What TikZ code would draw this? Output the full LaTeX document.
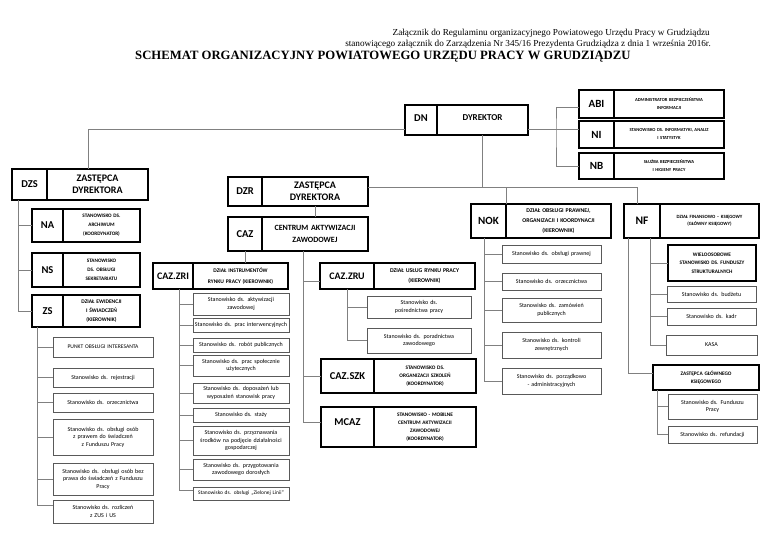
\documentclass[tikz,border=0pt]{standalone}
\usepackage{fontspec}
\setmainfont{Carlito}
\newfontfamily\tnr{Liberation Serif}
\newcommand\fs[2]{\fontsize{#1}{#2}\selectfont}
\tikzset{
 boxbase/.style={anchor=north west, inner xsep=1pt, inner ysep=0pt, outer sep=0pt, align=center},
 ab/.style={draw=black, line width=1.2pt, font=\bfseries\fs{10.5}{12}},
 ds/.style={draw=black, line width=1.2pt, font=\bfseries\fs{5.2}{9}},
 ch/.style={draw=black!65, line width=0.8pt, font=\fs{6}{7.6}},
 conn/.style={draw=black!50, line width=0.7pt},
}
\newcommand\bx[7][]{%
  \pgfmathsetmacro\bxw{#5-#3}%
  \pgfmathsetmacro\bxh{#6-#4}%
  \pgfmathsetmacro\bxt{#5-#3-2}%
  \node[boxbase,#1,minimum width=\bxw pt,minimum height=\bxh pt,text width=\bxt pt] (#2) at (#3,#4) {#7};}
\begin{document}
\begin{tikzpicture}[x=1pt,y=-1pt]
\fill[white] (0,0) rectangle (768,543);
\useasboundingbox (0,0) rectangle (768,543);
% header
\node[anchor=east, inner sep=0, font=\tnr\fs{9.2}{11}] (h1) at (710,33) {Załącznik do Regulaminu organizacyjnego Powiatowego Urzędu Pracy w Grudziądzu};
\node[anchor=east, inner sep=0, font=\tnr\fs{9.2}{11}] (h2) at (711,44) {stanowiącego załącznik do Zarządzenia Nr 345/16 Prezydenta Grudziądza z dnia 1 września 2016r.};
\node[anchor=west, inner sep=0, font=\tnr\bfseries\fs{12.7}{14}] (title) at (135,57) {SCHEMAT ORGANIZACYJNY POWIATOWEGO URZĘDU PRACY W GRUDZIĄDZU};
% top
\bx[ab]{dn}{405}{105}{437}{135}{\raisebox{3pt}{DN}}
\bx[ab,font=\bfseries\fs{9}{11}]{dyr}{437}{105}{528}{135}{\raisebox{4pt}{DYREKTOR}}
\bx[ab,font=\bfseries\fs{11}{12}]{abi}{579}{90}{614}{118}{ABI}
\bx[ds,font=\bfseries\fs{4.6}{8}]{abid}{614}{90}{724}{118}{ADMINISTRATOR BEZPIECZEŃSTWA\\INFORMACJI}
\bx[ab,font=\bfseries\fs{11}{12}]{ni}{579}{121}{614}{148}{NI}
\bx[ds,font=\bfseries\fs{4.6}{8}]{nid}{614}{121}{724}{148}{STANOWISKO DS. INFORMATYKI, ANALIZ\\I STATYSTYK}
\bx[ab,font=\bfseries\fs{11}{12}]{nb}{579}{153}{614}{179}{NB}
\bx[ds,font=\bfseries\fs{4.6}{8}]{nbd}{614}{153}{724}{179}{SŁUŻBA BEZPIECZEŃSTWA\\I HIGIENY PRACY}
% left
\bx[ab]{dzs}{12}{169}{47}{200}{DZS}
\bx[ds,font=\bfseries\fs{10}{11.7}]{dzsd}{47}{169}{148}{200}{ZASTĘPCA\\DYREKTORA}
\bx[ab]{na}{32}{209}{63}{242}{NA}
\bx[ds]{nad}{63}{209}{140}{242}{STANOWISKO DS.\\ARCHIWUM\\(KOORDYNATOR)}
\bx[ab]{ns}{32}{253}{63}{287}{NS}
\bx[ds]{nsd}{63}{253}{140}{287}{STANOWISKO\\DS. OBSŁUGI\\SEKRETARIATU}
\bx[ab]{zs}{32}{295}{63}{327}{ZS}
\bx[ds,font=\bfseries\fs{5.5}{9}]{zsd}{63}{295}{140}{327}{DZIAŁ EWIDENCJI\\I ŚWIADCZEŃ\\(KIEROWNIK)}
\bx[ch,font=\fs{5.6}{7.6}]{zs1}{53}{337}{153}{357}{PUNKT OBSŁUGI INTERESANTA}
\bx[ch]{zs2}{53}{368}{153}{387}{Stanowisko ds. rejestracji}
\bx[ch]{zs3}{53}{393}{153}{412}{Stanowisko ds. orzecznictwa}
\bx[ch]{zs4}{53}{419}{153}{455}{Stanowisko ds. obsługi osób\\z prawem do świadczeń\\z Funduszu Pracy}
\bx[ch]{zs5}{53}{463}{153}{495}{Stanowisko ds. obsługi osób bez\\prawa do świadczeń z Funduszu\\Pracy}
\bx[ch]{zs6}{53}{500}{153}{523}{Stanowisko ds. rozliczeń\\z ZUS i US}
% middle
\bx[ab]{dzr}{228}{177}{262}{206}{DZR}
\bx[ds,font=\bfseries\fs{10}{11.7}]{dzrd}{262}{177}{368}{206}{ZASTĘPCA\\DYREKTORA}
\bx[ab]{caz}{228}{217}{262}{251}{CAZ}
\bx[ds,font=\bfseries\fs{8}{11.5}]{cazd}{262}{217}{368}{251}{CENTRUM AKTYWIZACJI\\ZAWODOWEJ}
\bx[ab,font=\bfseries\fs{10}{12}]{zri}{153}{263}{193}{289}{CAZ.ZRI}
\bx[ds,font=\bfseries\fs{5.5}{10.5}]{zrid}{193}{263}{288}{289}{DZIAŁ INSTRUMENTÓW\\RYNKU PRACY (KIEROWNIK)}
\bx[ab,font=\bfseries\fs{10}{12}]{zru}{320}{263}{374}{289}{CAZ.ZRU}
\bx[ds,font=\bfseries\fs{5.8}{10.5}]{zrud}{374}{263}{475}{289}{DZIAŁ USŁUG RYNKU PRACY\\(KIEROWNIK)}
\bx[ab]{szk}{321}{359}{374}{393}{CAZ.SZK}
\bx[ds,font=\bfseries\fs{5.3}{8}]{szkd}{374}{359}{476}{393}{STANOWISKO DS.\\ORGANIZACJI SZKOLEŃ\\(KOORDYNATOR)}
\bx[ab]{mcaz}{321}{407}{374}{447}{\raisebox{9pt}{MCAZ}}
\bx[ds,font=\bfseries\fs{5.3}{8}]{mcazd}{374}{407}{476}{447}{STANOWISKO - MOBILNE\\CENTRUM AKTYWIZACJI\\ZAWODOWEJ\\(KOORDYNATOR)}
\bx[ch]{r1}{193}{293}{289}{315}{Stanowisko ds. aktywizacji\\zawodowej}
\bx[ch]{r2}{193}{318}{289}{332}{Stanowisko ds. prac interwencyjnych}
\bx[ch]{r3}{193}{338}{289}{352}{Stanowisko ds. robót publicznych}
\bx[ch]{r4}{193}{355}{289}{376}{Stanowisko ds. prac społecznie\\użytecznych}
\bx[ch]{r5}{193}{383}{289}{403}{Stanowisko ds. doposażeń lub\\wyposażeń stanowisk pracy}
\bx[ch]{r6}{193}{408}{289}{422}{Stanowisko ds. staży}
\bx[ch]{r7}{193}{426}{289}{455}{Stanowisko ds. przyznawania\\środków na podjęcie działalności\\gospodarczej}
\bx[ch]{r8}{193}{459}{289}{480}{Stanowisko ds. przygotowania\\zawodowego dorosłych}
\bx[ch,font=\fs{5.4}{7}]{r9}{193}{487}{289}{500}{Stanowisko ds. obsługi „Zielonej Linii”}
\bx[ch]{u1}{367}{296}{471}{318}{Stanowisko ds.\\pośrednictwa pracy}
\bx[ch]{u2}{367}{328}{471}{353}{Stanowisko ds. poradnictwa\\zawodowego}
% NOK
\bx[ab,font=\bfseries\fs{11}{12}]{nok}{471}{204}{506}{238}{NOK}
\bx[ds,font=\bfseries\fs{5.8}{10}]{nokd}{506}{204}{611}{238}{DZIAŁ OBSŁUGI PRAWNEJ,\\ORGANIZACJI I KOORDYNACJI\\(KIEROWNIK)}
\bx[ch]{k1}{502}{245}{601}{263}{Stanowisko ds. obsługi prawnej}
\bx[ch]{k2}{502}{273}{601}{290}{Stanowisko ds. orzecznictwa}
\bx[ch]{k3}{502}{298}{601}{322}{Stanowisko ds. zamówień\\publicznych}
\bx[ch]{k4}{502}{332}{601}{358}{Stanowisko ds. kontroli\\zewnętrznych}
\bx[ch]{k5}{502}{368}{601}{394}{Stanowisko ds. porządkowo\\- administracyjnych}
% NF
\bx[ab,font=\bfseries\fs{11.5}{12}]{nf}{624}{204}{660}{238}{NF}
\bx[ds,font=\bfseries\fs{4.8}{7.2}]{nfd}{660}{204}{759}{238}{DZIAŁ FINANSOWO – KSIĘGOWY\\(GŁÓWNY KSIĘGOWY)}
\bx[ds,line width=1.5pt,font=\bfseries\fs{5.3}{8.3}]{f1}{668}{245}{756}{281}{WIELOOSOBOWE\\STANOWISKO DS. FUNDUSZY\\STRUKTURALNYCH}
\bx[ch]{f2}{667}{286}{756}{302}{Stanowisko ds. budżetu}
\bx[ch]{f3}{667}{308}{756}{325}{Stanowisko ds. kadr}
\bx[ch]{f4}{666}{335}{757}{355}{KASA}
\bx[ds,line width=1.5pt,font=\bfseries\fs{5.3}{8.3}]{zgk}{653}{365}{759}{390}{ZASTĘPCA GŁÓWNEGO\\KSIĘGOWEGO}
\bx[ch]{g1}{668}{394}{757}{419}{Stanowisko ds. Funduszu\\Pracy}
\bx[ch]{g2}{668}{426}{757}{443}{Stanowisko ds. refundacji}
% connectors
\coordinate (dj) at (556,129);
\draw[conn] ([yshift=-9pt]dyr.east) -- ([yshift=5.5pt]ni.west);
\draw[conn] ([yshift=-3pt]abi.west) -| (dj) |- (nb.west);
\draw[conn] ([yshift=-9pt]dn.west) -| ([xshift=-9.5pt]dzsd.north);
\coordinate (busL) at ([yshift=4.5pt]dzrd.east);
\draw[conn] (busL) -| ([xshift=-5pt]nf.north);
\draw[conn] (dyr.south) -- (dyr.south |- busL);
\draw[conn] (nok.north east |- busL) -- (nok.north east);
\draw[conn] (dzrd.south) -- (cazd.north);
\draw[conn] (caz.south) -- (caz.south |- zrid.north);
\coordinate (cazL) at ([xshift=-12pt]cazd.south);
\draw[conn] (cazL) |- ([yshift=-5pt]zru.west);
\draw[conn] (cazL) |- (szk.west);
\draw[conn] (cazL) |- ([yshift=5pt]mcaz.west);
\coordinate (dzsL) at ([xshift=-11.5pt]dzs.south);
\foreach \n in {na,ns,zs} \draw[conn] (dzsL) |- (\n.west);
\coordinate (zsL) at ([xshift=-10.5pt]zs.south);
\foreach \n in {zs1,zs2,zs3,zs4,zs5} \draw[conn] (zsL) |- (\n.west);
\draw[conn] (zsL) |- ([yshift=6.5pt]zs6.west);
\coordinate (zriL) at ([xshift=6pt]zri.south);
\foreach \n in {r1,r2,r3,r4,r5,r6,r7,r8} \draw[conn] (zriL) |- (\n.west);
\draw[conn] (zriL) |- ([yshift=3.5pt]r9.west);
\coordinate (zruL) at (zru.south);
\foreach \n in {u1,u2} \draw[conn] (zruL) |- (\n.west);
\coordinate (nokL) at ([xshift=-4.5pt]nok.south);
\foreach \n in {k1,k2,k3,k4,k5} \draw[conn] (nokL) |- (\n.west);
\coordinate (nfA) at ([xshift=8pt]nf.south);
\foreach \n in {f1,f2,f3,f4} \draw[conn] (nfA) |- (\n.west);
\coordinate (nfB) at ([xshift=-14pt]nf.south);
\draw[conn] (nfB) |- ([yshift=4.5pt]zgk.west);
\coordinate (zgkL) at ([xshift=4pt]zgk.south west);
\foreach \n in {g1,g2} \draw[conn] (zgkL) |- (\n.west);
\end{tikzpicture}
\end{document}
